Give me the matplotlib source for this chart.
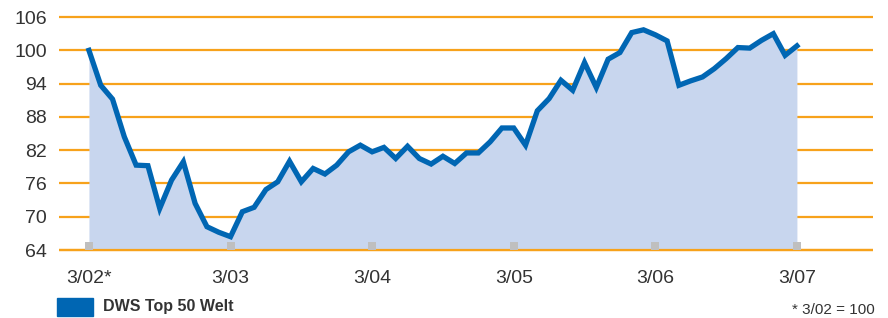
import matplotlib
matplotlib.use("Agg")
import matplotlib.pyplot as plt
from matplotlib.patches import Rectangle

plt.rcParams['font.family'] = ['Liberation Sans', 'DejaVu Sans']

# monthly index values, 3/02 = 100
werte = [100, 93.7, 91.2, 84.4, 79.3, 79.2, 71.5, 76.6, 79.9, 72.4, 68.2, 67.2,
         66.4, 70.9, 71.7, 74.9, 76.3, 80.0, 76.3, 78.7, 77.7, 79.3, 81.7, 82.9,
         81.7, 82.5, 80.5, 82.7, 80.5, 79.5, 80.9, 79.6, 81.5, 81.5, 83.5, 86.0,
         86.0, 82.9, 89.1, 91.3, 94.6, 92.8, 97.8, 93.3, 98.4, 99.6, 103.2, 103.7,
         102.8, 101.7, 93.7, 94.5, 95.2, 96.7, 98.5, 100.5, 100.4, 101.8, 103.0, 99.1,
         100.8]
monate = list(range(len(werte)))
tick_pos = [0, 12, 24, 36, 48, 60]
tick_lbl = ['3/02*', '3/03', '3/04', '3/05', '3/06', '3/07']
y_ticks = [64, 70, 76, 82, 88, 94, 100, 106]

orange = '#f7a21b'
blau = '#0066b3'
hell = '#c8d6ee'
grau = '#333333'

fig = plt.figure(figsize=(8.88, 3.18), dpi=100)
ax = fig.add_axes([0.0664, 0.2086, 0.9166, 0.743])

for y in y_ticks:
    ax.axhline(y, color=orange, lw=1.6, zorder=1)
ax.fill_between(monate, werte, 64, color=hell, lw=0, zorder=2)
ax.axhline(64, color=orange, lw=1.6, zorder=3)
ax.plot(monate, werte, color=blau, lw=3.8, solid_joinstyle='miter', zorder=4)
ax.plot(tick_pos, [64.75] * len(tick_pos), 's', color='#bfbfbf', ms=5.5, mew=0, zorder=5)

ax.set_xlim(-2.54, 66.44)
ax.set_ylim(63.7, 106.3)
ax.set_yticks(y_ticks)
ax.set_yticklabels([str(v) for v in y_ticks], fontsize=14, color=grau)
ax.set_xticks(tick_pos)
ax.set_xticklabels(tick_lbl, fontsize=14, color=grau)
ax.tick_params(length=0, axis='y', pad=8.5)
ax.tick_params(length=0, axis='x', pad=13)
for s in ax.spines.values():
    s.set_visible(False)

# legend
fig.patches.append(Rectangle((57 / 888, 1 - 316 / 318), 36 / 888, 18 / 318,
                             transform=fig.transFigure, color=blau, figure=fig))
fig.text(103 / 888, 1 - 307 / 318, 'DWS Top 50 Welt', fontsize=11.5, fontweight='bold',
         color=grau, va='center', ha='left')
fig.text(875 / 888, 1 - 310 / 318, '* 3/02 = 100', fontsize=11, color=grau,
         va='center', ha='right')

fig.savefig('out.png', dpi=100)
